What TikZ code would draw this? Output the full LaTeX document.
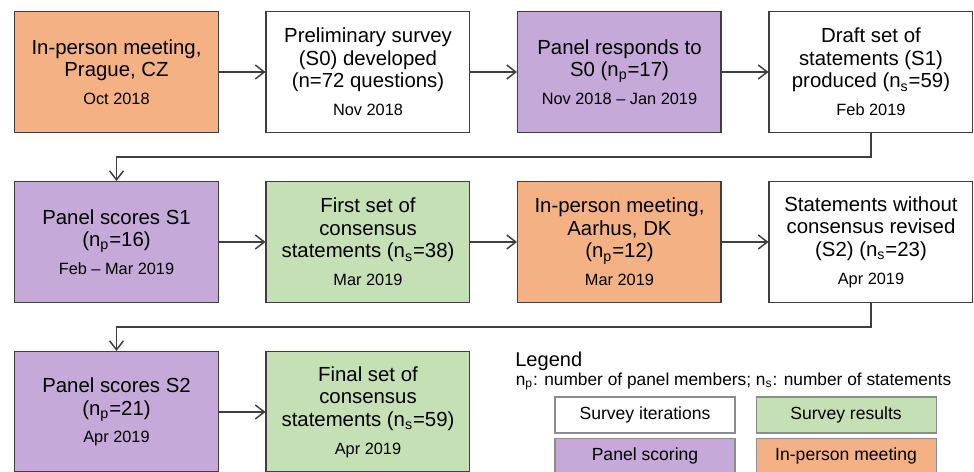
\documentclass[tikz,border=0pt]{standalone}
\usepackage{fontspec}
\setmainfont{Liberation Sans}
\usetikzlibrary{positioning}
\usetikzlibrary{arrows.meta}
\tikzset{>={Straight Barb[length=1.8mm,width=2.8mm]}}
\definecolor{meetorange}{HTML}{F4B183}
\definecolor{scorepurple}{HTML}{C5A9D8}
\definecolor{resultgreen}{HTML}{C5E0B4}
\definecolor{edgegrey}{HTML}{3F3F3F}
\newcommand{\when}[1]{\\[3pt]{\fontsize{9.3}{11}\selectfont #1}}

\begin{document}
\begin{tikzpicture}[stage/.style={rectangle, draw=edgegrey, line width=0.85pt, fill=white, minimum width=4.07cm, minimum height=2.41cm, align=center, inner sep=1pt, font=\fontsize{11.6}{12.8}\selectfont}, meeting/.style={stage, fill=meetorange}, scoring/.style={stage, fill=scorepurple}, result/.style={stage, fill=resultgreen}, key/.style={rectangle, draw=black!45, line width=0.6pt, minimum width=3.6cm, minimum height=0.72cm, font=\fontsize{10}{12}\selectfont}, node distance=0.96cm and 0.93cm]

    \useasboundingbox (0,0) rectangle (19.48,-9.44);
    \clip (0,0) rectangle (19.48,-9.44);

    %Nodes
    \node[meeting](prague) at (2.33,-1.44){In-person meeting,\\Prague, CZ\when{Oct 2018}};
    \node[stage](survey)[right=of prague]{Preliminary survey\\(S0) developed\\(n=72 questions)\when{Nov 2018}};
    \node[scoring](respond)[right=of survey]{Panel responds to\\S0 (n\textsubscript{p}=17)\when{Nov 2018 -- Jan 2019}};
    \node[stage](draft)[right=of respond]{Draft set of\\statements (S1)\\produced (n\textsubscript{s}=59)\when{Feb 2019}};

    \node[scoring](scoreone)[below=of prague]{Panel scores S1\\(n\textsubscript{p}=16)\when{Feb -- Mar 2019}};
    \node[result](firstset)[right=of scoreone]{First set of\\consensus\\statements (n\textsubscript{s}=38)\when{Mar 2019}};
    \node[meeting](aarhus)[right=of firstset]{In-person meeting,\\Aarhus, DK\\(n\textsubscript{p}=12)\when{Mar 2019}};
    \node[stage](revised)[right=of aarhus]{Statements without\\consensus revised\\(S2) (n\textsubscript{s}=23)\when{Apr 2019}};

    \node[scoring](scoretwo)[below=of scoreone]{Panel scores S2\\(n\textsubscript{p}=21)\when{Apr 2019}};
    \node[result](finalset)[right=of scoretwo]{Final set of\\consensus\\statements (n\textsubscript{s}=59)\when{Apr 2019}};

    %Legend
    \node[anchor=base west, inner sep=0pt, font=\fontsize{11.4}{13}\selectfont](legend) at (10.3,-7.33){Legend};
    \node[anchor=base west, inner sep=0pt, font=\fontsize{9.85}{12}\selectfont](legend_text) at (10.31,-7.70){n\textsubscript{p}: number of panel members; n\textsubscript{s}: number of statements};
    \node[key, fill=white](key_survey) at (12.9,-8.3){Survey iterations};
    \node[key, fill=resultgreen](key_results)[right=0.4cm of key_survey]{Survey results};
    \node[key, fill=scorepurple](key_scoring)[below=0.08cm of key_survey]{Panel scoring};
    \node[key, fill=meetorange](key_meeting)[below=0.08cm of key_results]{In-person meeting};

    %Lines
    \begin{scope}[draw=edgegrey, line width=0.85pt]
    \draw[->] (prague.east) -- (survey.west);
    \draw[->] (survey.east) -- (respond.west);
    \draw[->] (respond.east) -- (draft.west);
    \draw[->] (draft.south) -- ++(0,-0.48) -| (scoreone.north);
    \draw[->] (scoreone.east) -- (firstset.west);
    \draw[->] (firstset.east) -- (aarhus.west);
    \draw[->] (aarhus.east) -- (revised.west);
    \draw[->] (revised.south) -- ++(0,-0.48) -| (scoretwo.north);
    \draw[->] (scoretwo.east) -- (finalset.west);
    \end{scope}

\end{tikzpicture}
\end{document}
